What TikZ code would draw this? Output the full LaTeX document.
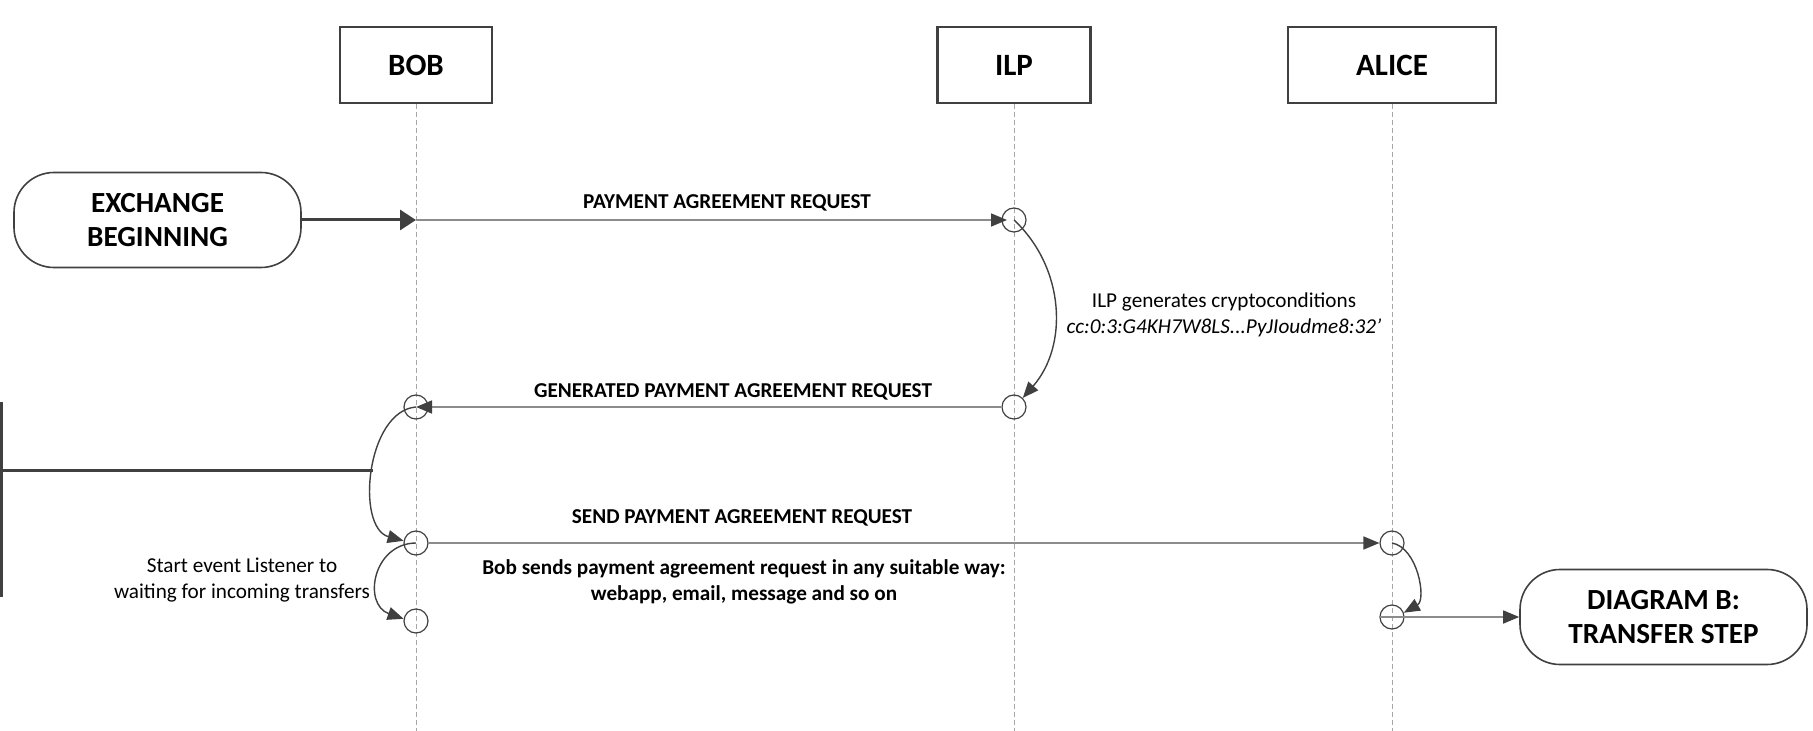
\documentclass[tikz,border=0pt]{standalone}
\usepackage{fontspec}
\setmainfont{Carlito}
\usepackage{xcolor}
\usetikzlibrary{arrows.meta, positioning}
\definecolor{darkline}{HTML}{404040}
\definecolor{msgline}{HTML}{8C8C8C}
\definecolor{lifegray}{HTML}{A6A6A6}

\begin{document}
\begin{tikzpicture}[
    x=0.5pt, y=0.5pt,
    head tip/.style={-{Triangle[length=8pt, width=6.5pt, color=darkline]}},
    actor/.style={draw=darkline, line width=1.2pt, minimum height=38pt, inner sep=0pt, font=\bfseries\fontsize{15.5}{18}\selectfont},
    terminal/.style={draw=darkline, line width=0.8pt, rounded corners=20pt, minimum width=143.5pt, minimum height=47.5pt, align=center, font=\bfseries\fontsize{14.6}{17}\selectfont},
    event/.style={draw=darkline, circle, line width=0.6pt, minimum size=12pt, inner sep=0pt},
    life/.style={draw=lifegray, line width=0.5pt, dash pattern=on 2.5pt off 1.5pt},
    message/.style={draw=msgline, line width=0.8pt, head tip},
    callback/.style={draw=darkline, line width=0.7pt, head tip},
    msg label/.style={font=\bfseries\fontsize{10.6}{13}\selectfont},
    note/.style={align=center, font=\fontsize{10.6}{13}\selectfont}
]
    \useasboundingbox (0,0) rectangle (1813,-731);
    \coordinate (bottom) at (0,-731);

    % --- PARTICIPANTS (Top) ---
    \node[actor, minimum width=76pt] (bob) at (416,-65) {BOB};
    \node[actor, minimum width=76.5pt] (ilp) at (1014,-65) {ILP};
    \node[actor, minimum width=104pt] (alice) at (1392,-65) {ALICE};

    % lifelines
    \draw[life] (bob.south) -- (bob.south |- bottom);
    \draw[life] (ilp.south) -- (ilp.south |- bottom);
    \draw[life] (alice.south) -- (alice.south |- bottom);

    % --- START / END ---
    \node[terminal] (start) at (157.5,-220) {EXCHANGE\\BEGINNING};
    \node[terminal] (next) at (1663.5,-617) {DIAGRAM B:\\TRANSFER STEP};

    % --- ACTIVATION POINTS ---
    \node[event] (ilp1) at (1014,-220) {};
    \node[event] (ilp2) at (1014,-407) {};
    \node[event] (bob1) at (416,-407) {};
    \node[event] (bob2) at (416,-543) {};
    \node[event] (bob3) at (416,-621) {};
    \node[event] (alice1) at (1392,-543) {};
    \node[event] (alice2) at (1392,-617) {};

    % --- MESSAGES ---
    \coordinate (bobin) at (bob.south |- start);
    \draw[darkline, line width=1.5pt, -{Triangle[length=8pt, width=10pt]}] (start) -- (bobin);
    \draw[message, shorten >=3.5pt] (bobin) -- (ilp1.center);
    \draw[message] (ilp2.west) -- (bob1.center);
    \draw[message] (bob2.east) -- (alice1);
    \draw[message] (alice2.west) -- (next);

    % self calls
    \draw[callback] (ilp1.center) to[bend left=44] (ilp2);
    \draw[callback] (bob1.center) to[bend right=80, looseness=0.95] coordinate[pos=0.5] (bobturn) (bob2);
    \draw[callback] (bob2.center) to[bend right=80, looseness=1.45] (bob3);
    \draw[callback] (alice1.center) to[bend left=70, looseness=0.95] (alice2);

    % link to the left
    \coordinate (edgetop) at (1,-402);
    \coordinate (edgebot) at (1,-597);
    \draw[darkline, line width=1.5pt] (edgetop) -- (edgebot);
    \draw[darkline, line width=1.5pt] (edgetop |- bobturn) -- (bobturn);

    % --- LABELS ---
    \node[msg label] (paylabel) at (727,-203) {PAYMENT AGREEMENT REQUEST};
    \node[msg label] (genlabel) at (733,-392) {GENERATED PAYMENT AGREEMENT REQUEST};
    \node[msg label] (sendlabel) at (742,-518) {SEND PAYMENT AGREEMENT REQUEST};
    \node[note, font=\bfseries\fontsize{10.6}{13}\selectfont] (sendnote) at (744,-582) {Bob sends payment agreement request in any suitable way:\\webapp, email, message and so on};
    \node[note] (ilpnote) at (1224,-315) {ILP generates cryptoconditions\\\textit{cc:0:3:G4KH7W8LS...PyJIoudme8:32'}};
    \node[note] (listennote) at (242,-580) {Start event Listener to\\waiting for incoming transfers};

\end{tikzpicture}
\end{document}
